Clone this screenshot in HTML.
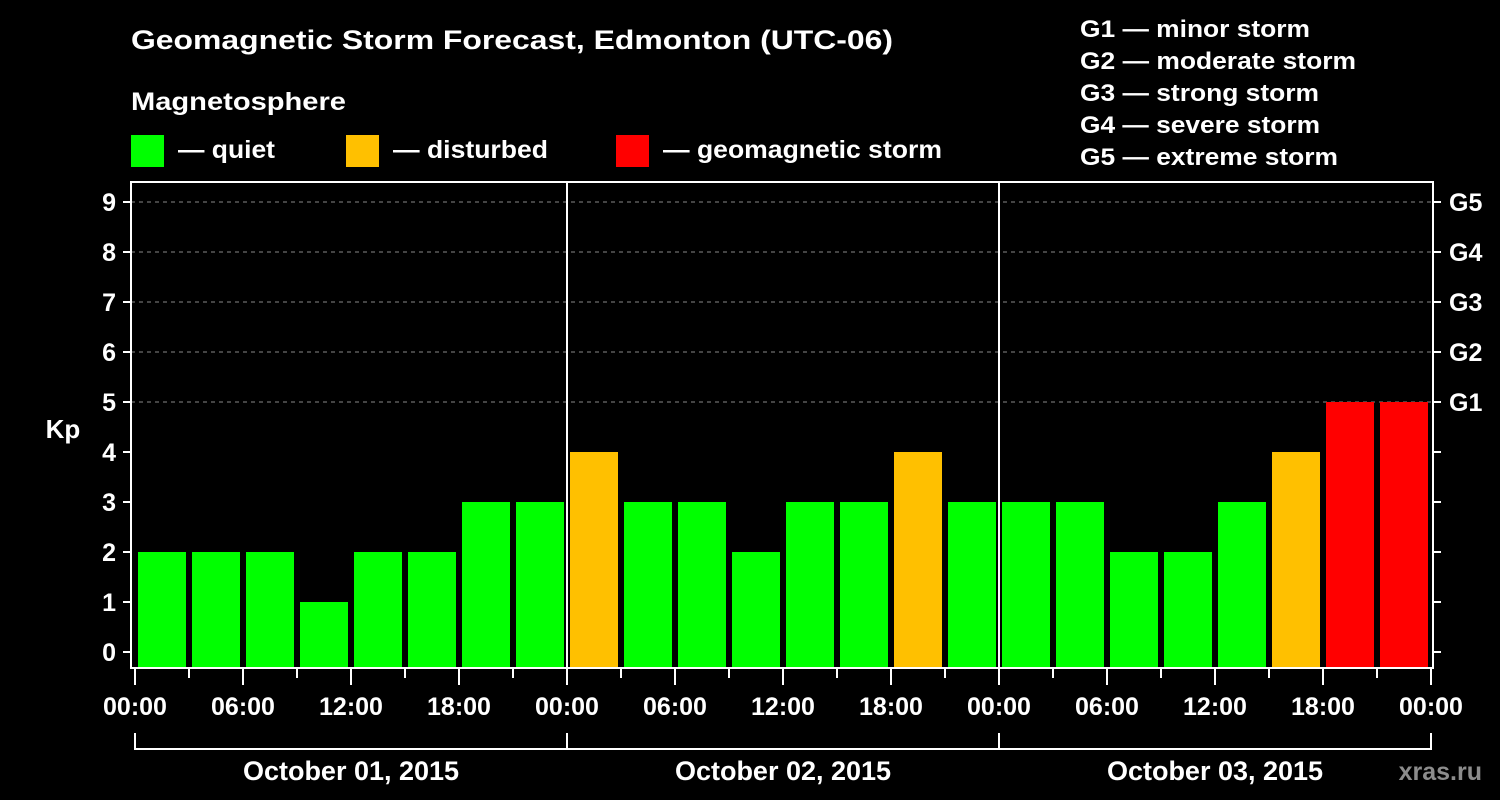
<!DOCTYPE html>
<html><head><meta charset="utf-8"><style>
html,body{margin:0;padding:0;background:#000;}
svg{display:block;font-family:"Liberation Sans",Arial,sans-serif;font-weight:bold;}
</style></head><body>
<svg id="chart" width="1500" height="800" viewBox="0 0 1500 800">
<rect width="1500" height="800" fill="#000"/>
<text x="131" y="49" font-size="27" fill="#fff" textLength="762" lengthAdjust="spacingAndGlyphs">Geomagnetic Storm Forecast, Edmonton (UTC-06)</text>
<text x="131" y="110" font-size="25" fill="#fff" textLength="215" lengthAdjust="spacingAndGlyphs">Magnetosphere</text>
<g><rect x="131" y="135" width="33" height="32" fill="#00ff00"/><text x="178" y="158" font-size="25" fill="#fff" textLength="97" lengthAdjust="spacingAndGlyphs">— quiet</text></g>
<g><rect x="346" y="135" width="33" height="32" fill="#ffc000"/><text x="393" y="158" font-size="25" fill="#fff" textLength="155" lengthAdjust="spacingAndGlyphs">— disturbed</text></g>
<g><rect x="616" y="135" width="33" height="32" fill="#ff0000"/><text x="663" y="158" font-size="25" fill="#fff" textLength="279" lengthAdjust="spacingAndGlyphs">— geomagnetic storm</text></g>
<g font-size="24" fill="#fff">
<text x="1080" y="37" textLength="230" lengthAdjust="spacingAndGlyphs">G1 — minor storm</text>
<text x="1080" y="69" textLength="276" lengthAdjust="spacingAndGlyphs">G2 — moderate storm</text>
<text x="1080" y="101" textLength="239" lengthAdjust="spacingAndGlyphs">G3 — strong storm</text>
<text x="1080" y="133" textLength="240" lengthAdjust="spacingAndGlyphs">G4 — severe storm</text>
<text x="1080" y="165" textLength="258" lengthAdjust="spacingAndGlyphs">G5 — extreme storm</text>
</g>
<g id="grid"></g><g id="bars"></g><g id="axes"></g>
<text x="63" y="438" font-size="26" fill="#fff" text-anchor="middle">Kp</text>
<text x="1482" y="780" font-size="25" fill="#8c8c8c" text-anchor="end">xras.ru</text>
</svg>
<script>
const kpValues=[2,2,2,1,2,2,3,3, 4,3,3,2,3,3,4,3, 3,3,2,2,3,4,5,5];
const dayLabels=["October 01, 2015","October 02, 2015","October 03, 2015"];
const hourLabels=["00:00","06:00","12:00","18:00"];
const yTicks=[0,1,2,3,4,5,6,7,8,9];
const gLabels=["G1","G2","G3","G4","G5"];
const NS="http://www.w3.org/2000/svg";
const X0=135,SLOT=54,L=131,R=1433,T=182,B=668;
const x=i=>X0+SLOT*i;
const y=v=>652-50*v;
function mk(tag,attrs,parent,text){const e=document.createElementNS(NS,tag);for(const k in attrs)e.setAttribute(k,attrs[k]);if(text!==undefined)e.textContent=text;parent.appendChild(e);return e;}
const grid=document.getElementById('grid'),bars=document.getElementById('bars'),axes=document.getElementById('axes');
[5,6,7,8,9].forEach(v=>{const l=mk('line',{x1:L,x2:R,y1:y(v),y2:y(v),stroke:'#888','stroke-dasharray':'4,4','stroke-width':1},grid);

});
kpValues.forEach((v,i)=>{const c=v>=5?'#ff0000':(v>=4?'#ffc000':'#00ff00');
const r=mk('rect',{x:x(i)+3,y:y(v),width:48,height:B-y(v),fill:c},bars);

});
mk('rect',{x:L,y:T,width:R-L,height:B-T,fill:'none',stroke:'#fff','stroke-width':2},axes);
for(let d=1;d<dayLabels.length;d++){const l=mk('line',{x1:x(8*d),x2:x(8*d),y1:T,y2:B,stroke:'#fff','stroke-width':2},axes);

}
yTicks.forEach(v=>{mk('line',{x1:123,x2:L,y1:y(v),y2:y(v),stroke:'#fff','stroke-width':2},axes);
mk('line',{x1:R,x2:1441,y1:y(v),y2:y(v),stroke:'#fff','stroke-width':2},axes);
const t=mk('text',{x:116,y:y(v)+9,'font-size':25,fill:'#fff','text-anchor':'end'},axes,String(v));

});
gLabels.forEach((g,i)=>{const t=mk('text',{x:1449,y:y(5+i)+9,'font-size':25,fill:'#fff'},axes,g);

});
for(let i=0;i<=kpValues.length;i++){const long=i%2===0;
mk('line',{x1:x(i),x2:x(i),y1:B,y2:long?685:678,stroke:'#fff','stroke-width':2},axes);
if(long){const lbl=i===kpValues.length?hourLabels[0]:hourLabels[(i/2)%4];
const t=mk('text',{x:x(i),y:715,'font-size':25,fill:'#fff','text-anchor':'middle'},axes,lbl);

}}
mk('line',{x1:x(0),x2:x(kpValues.length),y1:749,y2:749,stroke:'#fff','stroke-width':2},axes);
for(let d=0;d<=dayLabels.length;d++)mk('line',{x1:x(8*d),x2:x(8*d),y1:733,y2:750,stroke:'#fff','stroke-width':2},axes);
dayLabels.forEach((s,d)=>{const t=mk('text',{x:x(8*d+4),y:780,'font-size':27,fill:'#fff','text-anchor':'middle'},axes,s);

});
</script>
</body></html>
